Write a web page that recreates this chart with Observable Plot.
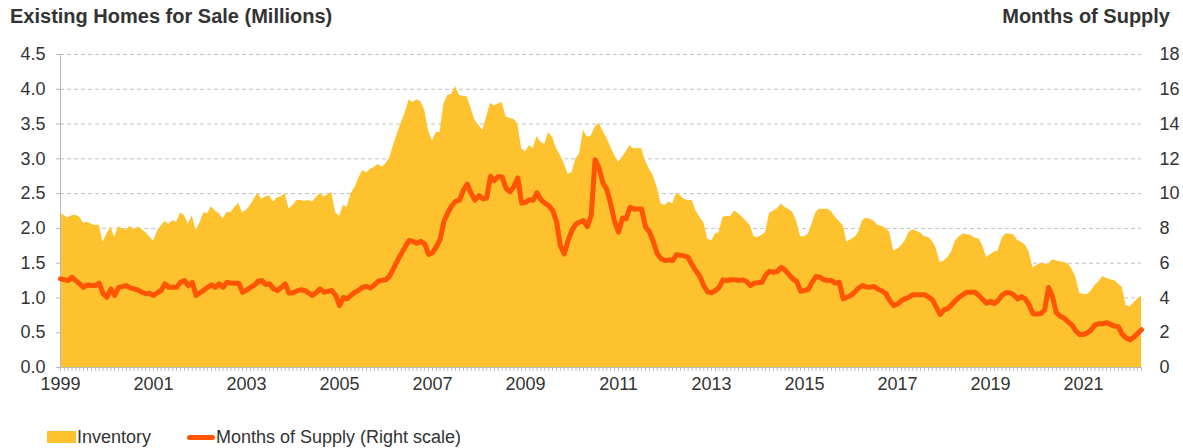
<!DOCTYPE html>
<html>
<head>
<meta charset="utf-8">
<script src="https://cdn.jsdelivr.net/npm/d3@7"></script>
<script src="https://cdn.jsdelivr.net/npm/@observablehq/plot@0.6"></script>
<style>
  html, body { margin: 0; padding: 0; background: #fff; }
  body { width: 1183px; height: 448px; overflow: hidden; font-family: "Liberation Sans", Arial, sans-serif; }
  #wrap { position: relative; width: 1183px; height: 448px; }
  .title { position: absolute; top: 5px; font-weight: bold; font-size: 20px; color: #333; }
  #chart { position: absolute; top: 36px; left: 0; }
  .leg { position: absolute; top: 426px; font-size: 18px; color: #333; line-height: 22px; white-space: nowrap; }
  .sw { position: absolute; }
</style>
</head>
<body>
<div id="wrap">
  <div class="title" style="left:10px;">Existing Homes for Sale (Millions)</div>
  <div class="title" style="right:13px;">Months of Supply</div>
  <div id="chart"></div>
  <div class="sw" style="left:47px;top:431px;width:29px;height:12px;background:#FEC22F;"></div>
  <div class="leg" style="left:77px;">Inventory</div>
  <div class="sw" style="left:187px;top:435px;width:28px;height:5px;border-radius:3px;background:#FF5400;"></div>
  <div class="leg" style="left:216px;">Months of Supply (Right scale)</div>
</div>
<script>
// Existing homes for sale (millions), monthly Jan 1999 - Apr 2022
const inventory = [
  2.22,2.18,2.15,2.18,2.19,2.16,2.07,2.09,2.06,2.04,2.05,1.80, // 1999
  1.92,2.02,1.87,2.02,2.00,1.97,2.03,1.98,2.02,1.98,1.94,1.88, // 2000
  1.82,1.96,2.03,2.10,2.06,2.11,2.09,2.22,2.18,2.06,2.18,1.97, // 2001
  2.08,2.23,2.21,2.31,2.25,2.21,2.14,2.23,2.23,2.30,2.36,2.22, // 2002
  2.26,2.33,2.42,2.50,2.42,2.45,2.47,2.38,2.44,2.45,2.50,2.28, // 2003
  2.33,2.40,2.40,2.39,2.40,2.38,2.44,2.50,2.45,2.48,2.52,2.23, // 2004
  2.17,2.33,2.30,2.50,2.58,2.72,2.83,2.80,2.85,2.88,2.92,2.88, // 2005
  2.93,3.02,3.20,3.36,3.52,3.66,3.85,3.81,3.85,3.82,3.70,3.40, // 2006
  3.26,3.38,3.38,3.79,3.91,3.93,4.04,3.91,3.90,3.89,3.72,3.55, // 2007
  3.48,3.41,3.60,3.80,3.76,3.79,3.81,3.60,3.58,3.57,3.50,3.15, // 2008
  3.10,3.19,3.14,3.32,3.24,3.21,3.38,3.31,3.15,3.05,2.93,2.78, // 2009
  2.80,3.00,3.07,3.41,3.31,3.33,3.45,3.51,3.40,3.30,3.17,3.05, // 2010
  2.95,3.02,3.10,3.19,3.14,3.15,3.15,2.97,2.85,2.76,2.59,2.35, // 2011
  2.33,2.38,2.35,2.50,2.47,2.42,2.40,2.40,2.25,2.16,2.08,1.85, // 2012
  1.82,1.92,1.94,2.16,2.17,2.17,2.25,2.21,2.16,2.10,2.04,1.88, // 2013
  1.87,1.90,1.94,2.21,2.25,2.28,2.35,2.30,2.27,2.23,2.10,1.88, // 2014
  1.88,1.92,2.06,2.23,2.28,2.27,2.28,2.24,2.16,2.10,2.04,1.80, // 2015
  1.84,1.87,1.94,2.11,2.15,2.13,2.10,2.04,2.03,2.00,1.94,1.68, // 2016
  1.70,1.75,1.82,1.94,1.98,1.96,1.93,1.88,1.87,1.82,1.71,1.51, // 2017
  1.53,1.58,1.66,1.82,1.88,1.92,1.91,1.90,1.86,1.85,1.75,1.58, // 2018
  1.62,1.66,1.67,1.85,1.92,1.92,1.91,1.83,1.80,1.76,1.66,1.43, // 2019
  1.47,1.50,1.49,1.48,1.55,1.53,1.52,1.51,1.49,1.42,1.30,1.07, // 2020
  1.05,1.05,1.10,1.18,1.23,1.31,1.28,1.26,1.25,1.20,1.15,0.89, // 2021
  0.87,0.93,0.98,1.03                                          // 2022
];

// Months of supply (right scale), monthly Jan 1999 - Apr 2022
const monthsSupply = [
  5.10,5.05,5.00,5.19,5.00,4.81,4.61,4.75,4.72,4.71,4.85,4.25, // 1999
  4.04,4.52,4.14,4.61,4.65,4.71,4.58,4.52,4.45,4.33,4.24,4.27, // 2000
  4.14,4.30,4.43,4.81,4.61,4.61,4.61,4.90,5.00,4.70,4.90,4.14, // 2001
  4.30,4.45,4.61,4.75,4.61,4.81,4.61,4.90,4.85,4.85,4.85,4.33, // 2002
  4.45,4.61,4.71,4.95,5.00,4.77,4.81,4.52,4.43,4.60,4.81,4.28, // 2003
  4.30,4.40,4.47,4.43,4.30,4.14,4.30,4.52,4.33,4.38,4.43,4.15, // 2004
  3.56,4.04,3.95,4.15,4.33,4.45,4.62,4.66,4.58,4.75,4.96,5.02, // 2005
  5.05,5.29,5.70,6.15,6.55,6.95,7.30,7.25,7.14,7.26,7.11,6.50, // 2006
  6.60,6.95,7.35,8.40,8.90,9.30,9.55,9.62,10.20,10.55,10.00,9.62, // 2007
  9.89,9.70,9.75,11.00,10.75,10.98,10.95,10.30,10.10,10.40,10.90,9.45, // 2008
  9.50,9.65,9.62,10.05,9.65,9.45,9.31,9.05,8.40,7.00,6.53,7.30, // 2009
  7.90,8.25,8.35,8.45,8.10,8.75,11.95,11.50,10.60,10.25,9.40,8.40, // 2010
  7.78,8.60,8.55,9.21,9.12,9.12,9.12,8.10,7.80,7.25,6.55,6.25, // 2011
  6.15,6.19,6.15,6.49,6.45,6.42,6.34,5.90,5.55,5.25,4.70,4.35, // 2012
  4.30,4.43,4.60,5.04,5.00,5.05,5.05,5.00,5.04,4.96,4.71,4.85, // 2013
  4.88,4.90,5.30,5.53,5.48,5.52,5.76,5.60,5.35,5.10,4.95,4.39, // 2014
  4.43,4.50,4.90,5.23,5.19,5.05,5.00,5.00,4.85,4.90,3.95,4.04, // 2015
  4.15,4.35,4.58,4.71,4.63,4.62,4.66,4.50,4.40,4.25,3.85,3.56, // 2016
  3.65,3.85,3.95,4.04,4.19,4.19,4.19,4.19,4.05,3.90,3.47,3.05, // 2017
  3.31,3.40,3.60,3.85,4.05,4.20,4.33,4.33,4.33,4.15,3.90,3.70, // 2018
  3.81,3.68,3.85,4.15,4.30,4.30,4.19,3.95,4.08,3.95,3.60,3.09, // 2019
  3.07,3.10,3.31,4.60,4.10,3.15,2.95,2.85,2.62,2.45,2.10,1.90, // 2020
  1.90,2.00,2.15,2.45,2.51,2.51,2.58,2.48,2.38,2.35,1.90,1.70, // 2021
  1.59,1.75,1.95,2.17                                          // 2022
];

const leftTicks = [0, 0.5, 1, 1.5, 2, 2.5, 3, 3.5, 4, 4.5];
const rightTicks = [0, 2, 4, 6, 8, 10, 12, 14, 16, 18];
const yearLabels = ["1999","2001","2003","2005","2007","2009","2011","2013","2015","2017","2019","2021"];

const start = new Date(Date.UTC(1999, 0, 1));
const dates = inventory.map((_, i) => new Date(Date.UTC(1999, i, 1)));
const end = dates[dates.length - 1];
const data = dates.map((date, i) => ({date, inv: inventory[i], sup: monthsSupply[i]}));
const ratio = 18 / 4.5; // right scale / left scale

const yearTicks = yearLabels.map(y => new Date(Date.UTC(+y, 0, 1)));

const chart = Plot.plot({
  width: 1183,
  height: 371,
  marginLeft: 60,
  marginRight: 42,
  marginTop: 18,
  marginBottom: 40,
  x: {type: "utc", domain: [start, end]},
  y: {domain: [0, 4.5]},
  style: {fontFamily: "'Liberation Sans', Arial, sans-serif", fontSize: "18px", color: "#333", background: "transparent", overflow: "visible"},
  marks: [
    Plot.gridY(leftTicks.slice(1), {stroke: "#c0c0c0", strokeOpacity: 1, strokeDasharray: "4,3"}),
    Plot.areaY(data, {x: "date", y: "inv", fill: "#FEC22F"}),
    Plot.ruleX([start], {stroke: "#b8b8b8"}),
    Plot.ruleY([0], {stroke: "#b8b8b8"}),
    Plot.lineY(data, {x: "date", y: d => d.sup / ratio, stroke: "#FF5400", strokeWidth: 5, strokeLinejoin: "round", strokeLinecap: "round"}),
    Plot.axisY(leftTicks, {anchor: "left", tickSize: 4, tickPadding: 11, stroke: "#b8b8b8", tickFormat: d3.format(".1f"), label: null}),
    Plot.axisY(rightTicks.map(m => m / ratio), {anchor: "right", tickSize: 0, tickPadding: 18, tickFormat: d => String(Math.round(d * ratio)), label: null}),
    Plot.axisX(dates, {tickSize: 4, stroke: "#c0c0c0", tickFormat: () => "", label: null}),
    Plot.axisX(yearTicks, {tickSize: 0, tickPadding: 10, tickFormat: (d, i) => yearLabels[i], label: null})
  ]
});
document.getElementById("chart").appendChild(chart);
</script>
</body>
</html>
